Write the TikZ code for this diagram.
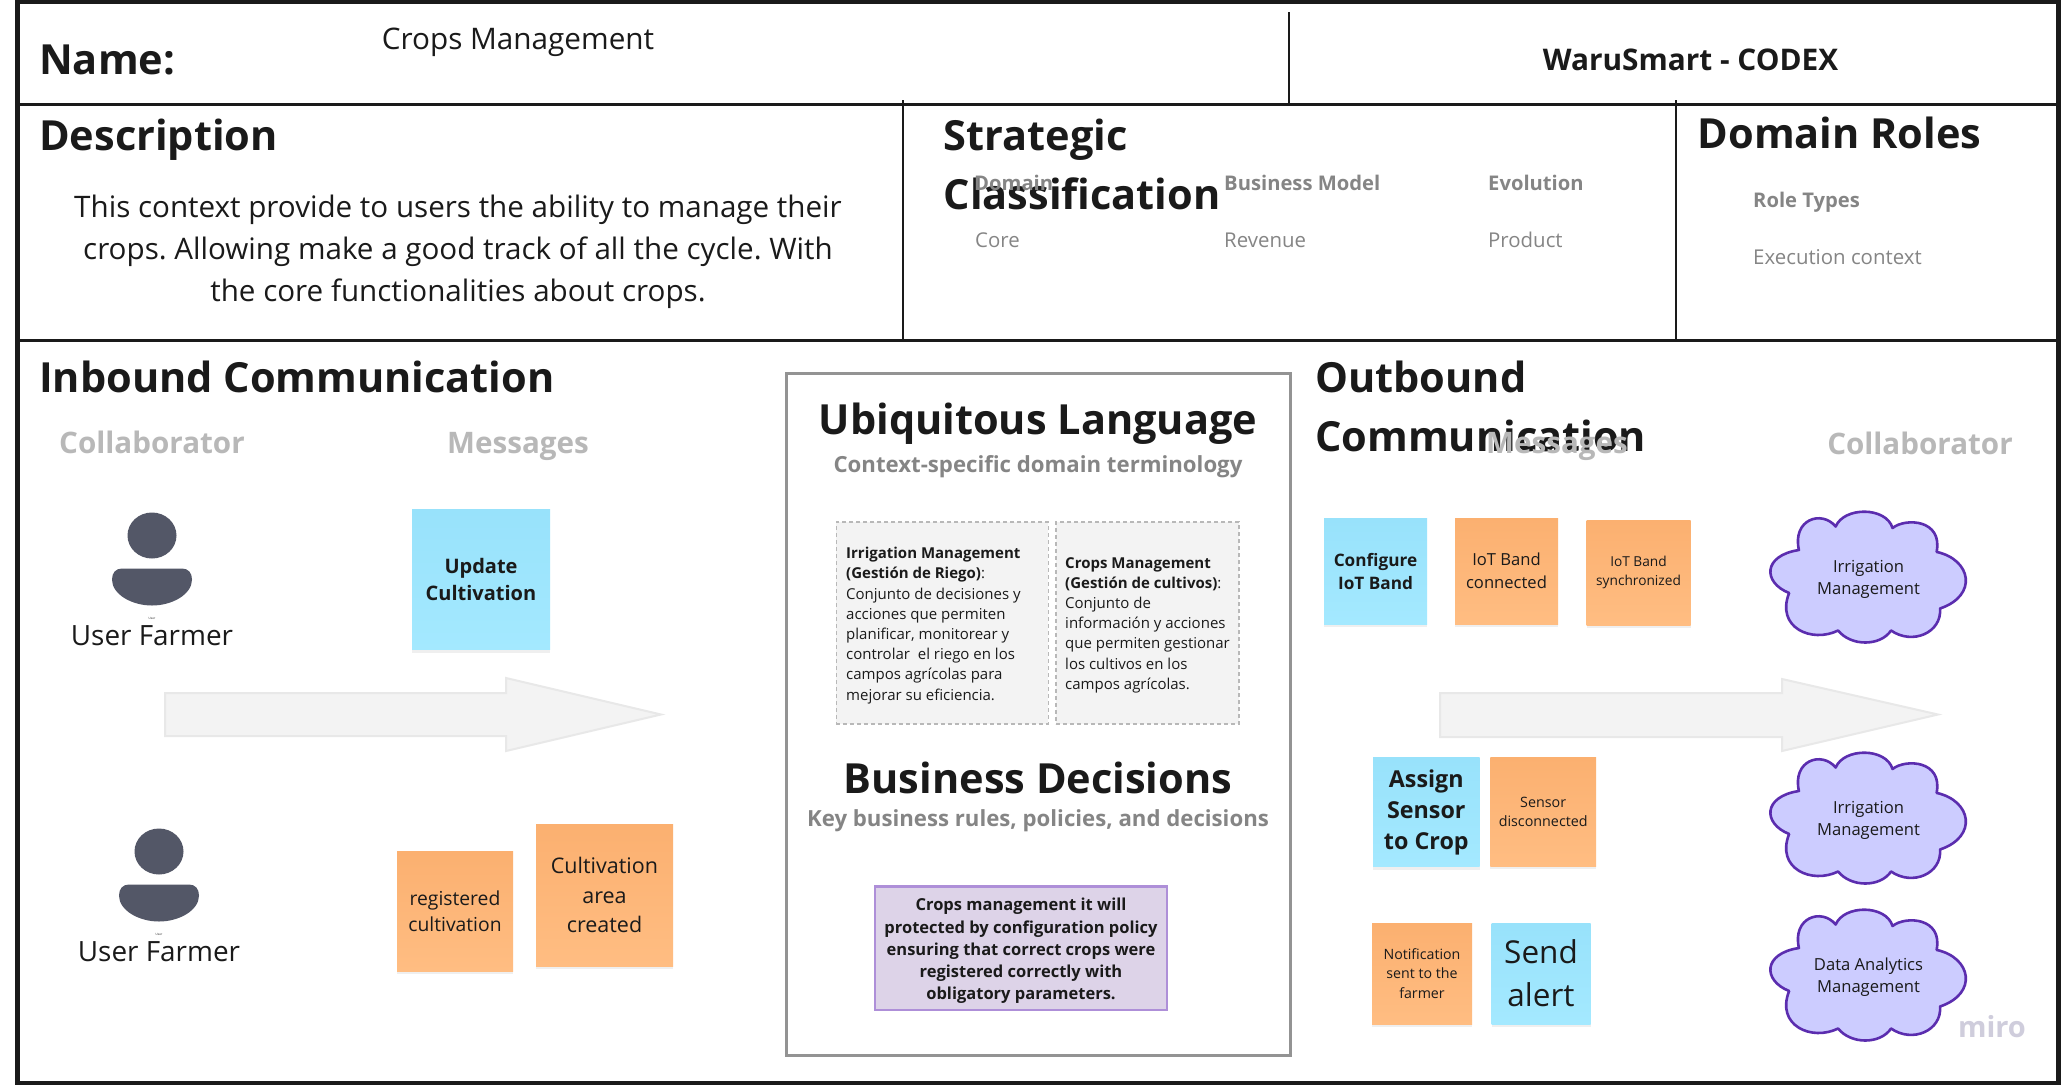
\documentclass[tikz,border=0pt]{standalone}
\usepackage{fontspec}
\setmainfont{Open Sans}
\usetikzlibrary{shadows}
\frenchspacing
\newcommand\fsz[2]{\fontsize{#1}{#2}\selectfont}
\definecolor{inkk}{HTML}{1A1A1A}
\definecolor{grayhead}{HTML}{B8B8B8}
\definecolor{graysub}{HTML}{858585}
\definecolor{personc}{HTML}{535767}
\definecolor{stickyblueA}{HTML}{98E2FB}
\definecolor{stickyblueB}{HTML}{A4E9FF}
\definecolor{stickyorA}{HTML}{FBB070}
\definecolor{stickyorB}{HTML}{FFBD82}
\definecolor{glossfill}{HTML}{F3F3F3}
\definecolor{glossline}{HTML}{B8B8B8}
\definecolor{arrowfill}{HTML}{F3F3F3}
\definecolor{arrowline}{HTML}{E8E8E8}
\definecolor{cloudfill}{HTML}{CCCCFF}
\definecolor{cloudline}{HTML}{5B2DAF}
\definecolor{decline}{HTML}{AE8FD8}
\definecolor{decfill}{HTML}{DDD3E8}
\definecolor{miroc}{HTML}{CFCDDC}
\tikzset{
 frameline/.style={line width=3pt,draw=inkk},
 innerline/.style={line width=2.5pt,draw=inkk},
 title/.style={anchor=west,inner sep=0,text=inkk,align=left,font=\fsz{41.5}{59}\bfseries},
 centertitle/.style={inner sep=0,text=inkk,align=center,font=\fsz{41.5}{50}\bfseries},
 subhead/.style={inner sep=0,text=graysub,align=center,font=\fsz{22.2}{28}\bfseries},
 grayhead/.style={inner sep=0,text=grayhead,font=\fsz{29.6}{36}\bfseries},
 smallhead/.style={anchor=west,inner sep=0,text=graysub,font=\fsz{20.2}{24}\bfseries},
 smallval/.style={anchor=west,inner sep=0,text=graysub,font=\fsz{20.4}{24}},
 sticky/.style={inner sep=0,outer sep=0,align=center,text=inkk,draw=none,drop shadow={shadow xshift=0pt,shadow yshift=-3pt,opacity=.12}},
 bluesticky/.style={sticky,top color=stickyblueA,bottom color=stickyblueB},
 orangesticky/.style={sticky,top color=stickyorA,bottom color=stickyorB},
 gloss/.style={draw=glossline,dash pattern=on 4pt off 3pt,line width=1.8pt,fill=glossfill},
 glosstext/.style={anchor=north west,inner sep=0,align=left,text=inkk,font=\fsz{15}{20.2}},
 bigarrow/.style={fill=arrowfill,draw=arrowline,line width=2pt},
 cloudtext/.style={inner sep=0,align=center,text=inkk,font=\fsz{16.6}{22}},
}
% #1 node name, #2 cx, #3 top y of head, #4 label
\newcommand\personfig[4]{%
 \begin{scope}[shift={(#2,#3)}]
  \fill[personc] (0,23) ellipse [x radius=24.5pt,y radius=23pt];
  \fill[personc] (-30,56) -- (30,56) .. controls (36,56) and (40,60) .. (40,67)
    .. controls (40,82) and (20,93) .. (0,93) .. controls (-20,93) and (-40,82) .. (-40,67)
    .. controls (-40,60) and (-36,56) .. (-30,56) -- cycle;
  \node[inner sep=0,font=\fsz{3}{3},text=inkk] (#1t) at (0,106) {User};
  \node[inner sep=0,font=\fsz{27.9}{34},text=inkk] (#1) at (0,123.5) {#4};
 \end{scope}}
% #1 name, #2 cy, #3 text
\newcommand\cloudfig[3]{%
 \begin{scope}[shift={(1868.5,#2)},x=.98pt]
  \draw[fill=cloudfill,draw=cloudline,line width=2.6pt,line join=round]
   (-33.5,-51) .. controls (-25,-71) and (18,-71) .. (24.5,-49.5)
   .. controls (38,-60) and (76,-58) .. (69.5,-25.6)
   .. controls (105,-18) and (112,18) .. (73,31)
   .. controls (75,55) and (45,68) .. (23,53)
   .. controls (12,69) and (-18,69) .. (-31,53)
   .. controls (-58,66) and (-95,50) .. (-81,15.5)
   .. controls (-108,5) and (-108,-22) .. (-71,-27.5)
   .. controls (-78,-58) and (-48,-68) .. (-33.5,-51) -- cycle;
  \node[cloudtext] (#1) at (0,2) {#3};
 \end{scope}}
\begin{document}
\begin{tikzpicture}[x=1pt,y=-1pt]
\useasboundingbox (0,0) rectangle (2072,1085);
\fill[white] (0,0) rectangle (2072,1085);
% frame
\draw[line width=4.5pt,draw=inkk] (17.5,2.2) rectangle (2058.7,1083);
\draw[frameline] (17,104.5) -- (2058,104.5);
\draw[frameline] (17,340) -- (2058,340);
\draw[innerline] (1289,12) -- (1289,103);
\draw[innerline] (903,100) -- (903,340);
\draw[innerline] (1676,100) -- (1676,340);
% header
\node[title] (nameT) at (39,60) {Name:};
\node[inner sep=0,text=inkk,font=\fsz{29.7}{36}] (nameV) at (518,42) {Crops Management};
\node[inner sep=0,text=inkk,font=\fsz{29.8}{34}\bfseries] (org) at (1690.5,60) {WaruSmart - CODEX};
\node[title] (descT) at (39,140) {Description};
\node[inner sep=0,align=center,text=inkk,font=\fsz{29.6}{42}] (descB) at (458,252) {This context provide to users the ability to manage their\\crops. Allowing make a good track of all the cycle. With\\the core functionalities about crops.};
\node[title] (stratT) at (943.5,164.5) {Strategic\\Classification};
\node[smallhead] (h1) at (974,183) {Domain};
\node[smallhead] (h2) at (1224,183) {Business Model};
\node[smallhead] (h3) at (1488,183) {Evolution};
\node[smallval] (v1) at (975,240) {Core};
\node[smallval] (v2) at (1224,240) {Revenue};
\node[smallval] (v3) at (1488,240) {Product};
\node[title] (roleT) at (1697.5,133) {Domain Roles};
\node[smallhead] (h4) at (1753,202) {Role Types};
\node[smallval] (v4) at (1753,257) {Execution context};
% inbound
\node[title] (inT) at (39,377) {Inbound Communication};
\node[grayhead] (inC) at (152,442) {Collaborator};
\node[grayhead] (inM) at (518,446) {Messages};
\personfig{farmerA}{152}{512.5}{User Farmer}
\personfig{farmerB}{159}{828.5}{User Farmer}
\node[bluesticky,minimum width=138pt,minimum height=140pt,font=\fsz{20}{27}\bfseries] (s1) at (481,579.5) {Update\\Cultivation};
\node[orangesticky,minimum width=116pt,minimum height=120pt,font=\fsz{19.3}{25.5}] (s2) at (455,911) {registered\\cultivation};
\node[orangesticky,minimum width=137pt,minimum height=142pt,font=\fsz{21.5}{29.5}] (s3) at (604.5,895) {Cultivation\\area\\created};
\draw[bigarrow] (165,693) -- (506,693) -- (506,678) -- (661,714.5) -- (506,751) -- (506,736) -- (165,736) -- cycle;
% center
\node[draw=gray!85,line width=3pt,fill=white,minimum width=504pt,minimum height=682pt,inner sep=0] (ulbox) at (1038,714) {};
\node[centertitle] (ulT) at (1038,424) {Ubiquitous Language};
\node[subhead] (ulS) at (1038,467) {Context-specific domain terminology};
\node[gloss,minimum width=212pt,minimum height=202pt,inner sep=0] (g1) at (942.4,623) {};
\node[gloss,minimum width=183pt,minimum height=202pt,inner sep=0] (g2) at (1147.5,623) {};
\node[glosstext] (g1t) at (846,547) {\textbf{Irrigation Management}\\\textbf{(Gestión de Riego)}:\\Conjunto de decisiones y\\acciones que permiten\\planificar, monitorear y\\controlar\ \ el riego en los\\campos agrícolas para\\mejorar su eficiencia.};
\node[glosstext] (g2t) at (1065,557) {\textbf{Crops Management}\\\textbf{(Gestión de cultivos)}:\\Conjunto de\\información y acciones\\que permiten gestionar\\los cultivos en los\\campos agrícolas.};
\node[centertitle] (bdT) at (1038,778) {Business Decisions};
\node[subhead] (bdS) at (1038,821) {Key business rules, policies, and decisions};
\node[fill=decfill,draw=decline,line width=2.5pt,minimum width=292pt,minimum height=123.5pt,inner sep=0] (dec) at (1021,948) {};
\node[inner sep=0,align=center,text=inkk,font=\fsz{16.5}{22.2}\bfseries] (dect) at (1021,951) {Crops management it will\\protected by configuration policy\\ensuring that correct crops were\\registered correctly with\\obligatory parameters.};
% outbound
\node[title] (outT) at (1315,406.5) {Outbound\\Communication};
\node[grayhead] (outM) at (1557,446) {Messages};
\node[grayhead] (outC) at (1920,443) {Collaborator};
\node[bluesticky,minimum width=103pt,minimum height=106pt,font=\fsz{17.2}{23}\bfseries] (o1) at (1375.5,571) {Configure\\IoT Band};
\node[orangesticky,minimum width=103pt,minimum height=106pt,font=\fsz{16.6}{23}] (o2) at (1506.5,571) {IoT Band\\connected};
\node[orangesticky,minimum width=104pt,minimum height=105pt,font=\fsz{13.7}{19}] (o3) at (1638.5,572.5) {IoT Band\\synchronized};
\draw[bigarrow] (1440,693) -- (1782,693) -- (1782,679) -- (1938,714.5) -- (1782,751) -- (1782,737) -- (1440,737) -- cycle;
\node[bluesticky,minimum width=106.5pt,minimum height=109pt,font=\fsz{23.3}{31}\bfseries] (o4) at (1426.3,812) {Assign\\Sensor\\to Crop};
\node[orangesticky,minimum width=105.7pt,minimum height=109pt,font=\fsz{14.3}{19}] (o5) at (1543.2,811.5) {Sensor\\disconnected};
\node[orangesticky,minimum width=100pt,minimum height=101pt,font=\fsz{14.2}{19.5}] (o6) at (1422,973.5) {Notification\\sent to the\\farmer};
\node[bluesticky,minimum width=99pt,minimum height=101pt,font=\fsz{31.5}{43}] (o7) at (1541,973.5) {Send\\alert};
\cloudfig{cl1}{577.5}{Irrigation\\Management}
\cloudfig{cl2}{818.5}{Irrigation\\Management}
\cloudfig{cl3}{975.5}{Data Analytics\\Management}
\node[inner sep=0,text=miroc,anchor=base,font=\fsz{29}{34}\bfseries] (miro) at (1992,1037) {miro};
\end{tikzpicture}
\end{document}
